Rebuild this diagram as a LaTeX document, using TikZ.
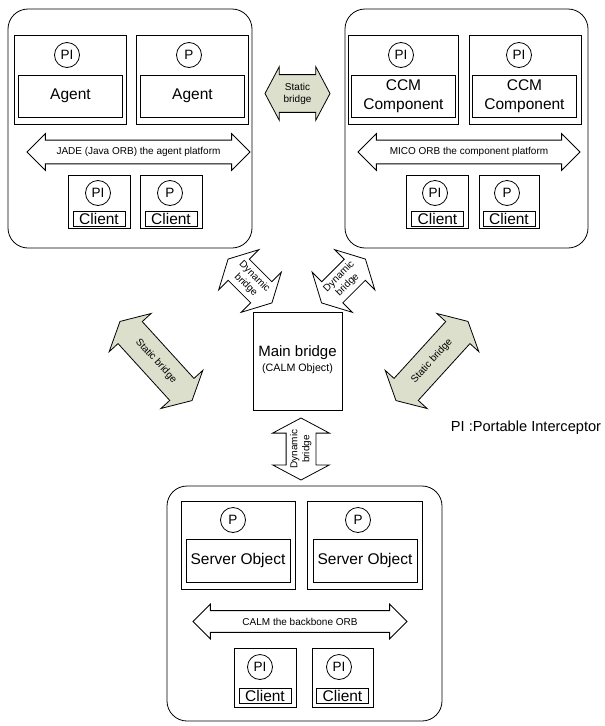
\documentclass[tikz,border=0pt]{standalone}
\usepackage{fontspec}
\setmainfont{Liberation Sans}
\usetikzlibrary{shapes.arrows}
\definecolor{bridgegreen}{RGB}{220,223,203}
\newcommand{\zerowd}[1]{\makebox[0pt]{\begin{tabular}{@{}c@{}}#1\end{tabular}}}
\tikzset{
  every node/.style={line width=0.8pt},
  platform/.style={draw, rounded corners=20pt, minimum width=244pt, minimum height=239pt},
  object/.style={draw, minimum width=112pt, minimum height=89pt},
  inbox/.style={draw, minimum width=104pt, minimum height=42pt, inner sep=0pt, align=center, font=\fontsize{15.5}{19}\selectfont},
  client/.style={draw, minimum width=62pt, minimum height=53pt},
  clientbox/.style={draw, minimum width=52pt, minimum height=15pt, inner sep=0pt, font=\fontsize{15.5}{17}\selectfont},
  pimark/.style={draw, circle, minimum size=25pt, inner sep=0pt, font=\fontsize{13.5}{14}\selectfont},
  orb/.style={draw, double arrow, double arrow head extend=6.5pt, double arrow tip angle=90, inner xsep=0pt, inner ysep=6.8pt, font=\fontsize{10}{12}\selectfont},
  bridge/.style={draw, double arrow, double arrow tip angle=124, inner xsep=0pt, align=center, font=\fontsize{10}{12}\selectfont},
  static/.style={bridge, fill=bridgegreen}
}
\begin{document}
\begin{tikzpicture}[x=1pt, y=-1pt]
  \useasboundingbox (0,0) rectangle (605,726);
  % agent platform
  \node[platform] (jade) at (130,128.5) {};
  \node[object] (agenta) at (70,79.5) {};
  \node[object] (agentb) at (192.5,79.5) {};
  \node[pimark] (pia) at (67,55) {PI};
  \node[pimark] (pib) at (189,55) {P};
  \node[inbox] (agentatxt) at (70.5,96) {Agent};
  \node[inbox] (agentbtxt) at (192.5,96) {Agent};
  \node[orb, minimum height=223pt] (jadeorb) at (138.5,152) {JADE (Java ORB) the agent platform};
  \node[client] (jca) at (99,201.5) {};
  \node[client] (jcb) at (171,201.5) {};
  \node[pimark] (pijca) at (98,193) {PI};
  \node[pimark] (pijcb) at (170,193) {P};
  \node[clientbox] (jcatxt) at (99,218.5) {Client};
  \node[clientbox] (jcbtxt) at (171,218.5) {Client};
  % component platform
  \node[platform, minimum width=243pt] (mico) at (466.5,128.5) {};
  \node[object, minimum width=110pt] (ccma) at (403,79.5) {};
  \node[object] (ccmb) at (525,79.5) {};
  \node[pimark] (pic) at (401,55) {PI};
  \node[pimark] (pid) at (519,55) {PI};
  \node[inbox] (ccmatxt) at (403.5,96) {CCM\\Component};
  \node[inbox] (ccmbtxt) at (524.5,96) {CCM\\Component};
  \node[orb, minimum height=222pt] (micoorb) at (469,152) {MICO ORB the component platform};
  \node[client] (mca) at (437.5,201.5) {};
  \node[client, minimum width=60pt] (mcb) at (509,201.5) {};
  \node[pimark] (pimca) at (435,193) {PI};
  \node[pimark] (pimcb) at (507,193) {P};
  \node[clientbox] (mcatxt) at (437.5,218.5) {Client};
  \node[clientbox] (mcbtxt) at (509,218.5) {Client};
  % backbone
  \node[platform, minimum width=275pt, minimum height=235pt] (calm) at (304.5,603.5) {};
  \node[object, minimum width=114pt, minimum height=88pt] (srva) at (238,545) {};
  \node[object, minimum width=115pt, minimum height=88pt] (srvb) at (364.5,545) {};
  \node[pimark] (pie) at (233,520) {P};
  \node[pimark] (pif) at (358,520) {P};
  \node[inbox, minimum height=43pt] (srvatxt) at (238,560.5) {Server Object};
  \node[inbox, minimum height=43pt] (srvbtxt) at (365,560.5) {Server Object};
  \node[orb, minimum height=214pt] (calmorb) at (300,621.5) {CALM the backbone ORB};
  \node[client, minimum height=59pt] (cca) at (265,677.5) {};
  \node[client, minimum height=59pt, minimum width=61pt] (ccb) at (342.5,677.5) {};
  \node[pimark] (picca) at (260,667) {PI};
  \node[pimark] (piccb) at (339,667) {PI};
  \node[clientbox] (ccatxt) at (265,695.5) {Client};
  \node[clientbox] (ccbtxt) at (342.5,695.5) {Client};
  % bridges
  \node[draw, minimum width=89pt, minimum height=98pt] (main) at (297.5,361) {};
  \node[font=\fontsize{15}{17}\selectfont] (maintxt) at (297.5,353) {Main bridge};
  \node[font=\fontsize{10.7}{12}\selectfont] (calmobj) at (297.5,369) {(CALM Object)};
  \node[static, minimum height=65pt, double arrow head extend=8pt, inner ysep=7.8pt] (sbtop) at (297.5,93.5) {Static\\bridge};
  \node[static, minimum height=107pt, double arrow head extend=12pt, inner ysep=11.3pt, rotate=-47.7] (sbleft) at (156,361) {Static bridge};
  \node[static, minimum height=107pt, double arrow head extend=12pt, inner ysep=11.3pt, rotate=47.7] (sbright) at (432,361) {Static bridge};
  \node[bridge, minimum height=62pt, double arrow head extend=13.5pt, inner ysep=2.5pt, rotate=-45] (dbleft) at (250,281) {\zerowd{Dynamic\\bridge}};
  \node[bridge, minimum height=62pt, double arrow head extend=13.5pt, inner ysep=2.5pt, rotate=45] (dbright) at (343.5,281) {\zerowd{Dynamic\\bridge}};
  \node[bridge, minimum height=62pt, double arrow head extend=13.5pt, inner ysep=2.5pt, rotate=90] (dbbottom) at (301,449) {\zerowd{Dynamic\\bridge}};
  \node[font=\fontsize{14.6}{16}\selectfont] (legend) at (526,428) {PI :Portable Interceptor};
\end{tikzpicture}
\end{document}
